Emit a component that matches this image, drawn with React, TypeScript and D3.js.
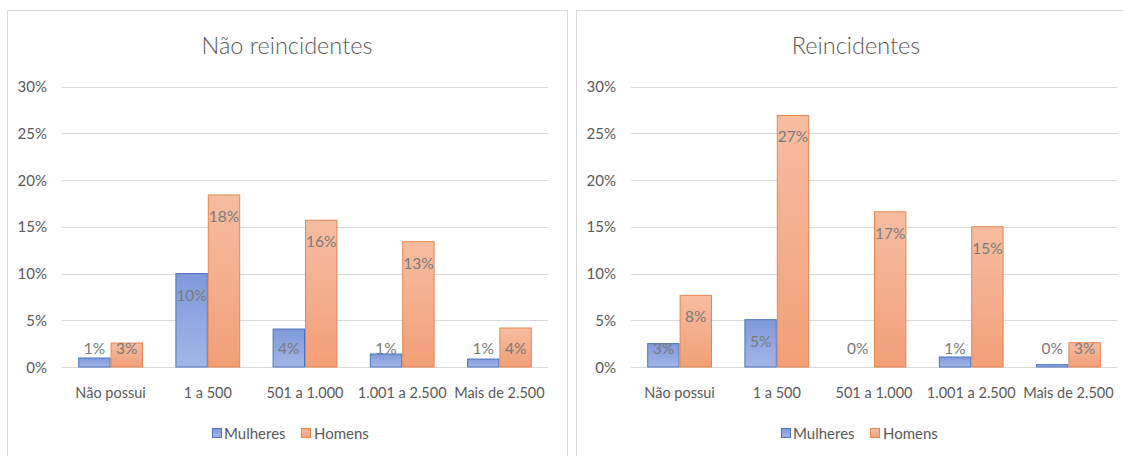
import React from "react";
import * as d3 from "d3";

const categories = ["Não possui", "1 a 500", "501 a 1.000", "1.001 a 2.500", "Mais de 2.500"];
const seriesNames = ["Mulheres", "Homens"];
const yTicks = [0, 5, 10, 15, 20, 25, 30];

const naoReincMulheres = [0.96, 10.0, 4.06, 1.39, 0.85];
const naoReincHomens = [2.56, 18.4, 15.7, 13.4, 4.17];
const reincMulheres = [2.5, 5.06, 0, 1.07, 0.25];
const reincHomens = [7.66, 26.9, 16.6, 15.0, 2.6];

const FONT = "Lato, 'Open Sans', sans-serif";
const TEXT = "#595959";
const LABEL = "#7a7a7a";

function Panel({ ox, title, mulheres, homens }: { ox: number; title: string; mulheres: number[]; homens: number[] }) {
  const x0 = d3.scaleBand<string>().domain(categories).range([ox + 55, ox + 541]).paddingInner(1 / 3).paddingOuter(1 / 6);
  const x1 = d3.scaleBand<string>().domain(seriesNames).range([0, x0.bandwidth()]).padding(0);
  const y = d3.scaleLinear().domain([0, 30]).range([367, 86.5]);
  const y0 = y(0);
  const series = [
    { name: "Mulheres", values: mulheres, fill: "url(#gBlue)", stroke: "#4f74bd" },
    { name: "Homens", values: homens, fill: "url(#gOrange)", stroke: "#e8854f" },
  ];
  const pc = ox + 280;
  return (
    <g>
      <rect x={ox + 0.5} y={10.5} width={560} height={470} fill="#fff" stroke="#d9d9d9" strokeWidth={1} />
      <text x={pc} y={54} textAnchor="middle" fontFamily={FONT} fontWeight={300} fontSize={23.5} fill={TEXT}>{title}</text>
      {yTicks.map((t) => (
        <g key={t}>
          <line x1={ox + 55} x2={ox + 541} y1={Math.round(y(t)) + 0.5} y2={Math.round(y(t)) + 0.5} stroke="#d9d9d9" strokeWidth={1} />
          <text x={ox + 40} y={y(t) + 5.5} textAnchor="end" fontFamily={FONT} fontSize={15} fill={TEXT}>{t}%</text>
        </g>
      ))}
      {series.map((s) =>
        s.values.map((v, i) => {
          const bx = (x0(categories[i]) as number) + (x1(s.name) as number);
          const bw = x1.bandwidth();
          const top = y(v);
          const h = y0 - top;
          const labelCy = Math.min(top + 21.5, y0 - 19);
          return (
            <g key={s.name + i}>
              {h > 0.3 && (
                <rect x={bx + 0.5} y={top} width={bw - 1} height={h} fill={s.fill} stroke={s.stroke} strokeWidth={1} />
              )}
              <text x={bx + bw / 2} y={labelCy + 5.5} textAnchor="middle" fontFamily={FONT} fontSize={15.5} fill={LABEL}>
                {Math.round(v)}%
              </text>
            </g>
          );
        })
      )}
      {categories.map((c) => (
        <text key={c} x={(x0(c) as number) + x0.bandwidth() / 2} y={397.5} textAnchor="middle" fontFamily={FONT} fontSize={14.5} fill={TEXT}>
          {c}
        </text>
      ))}
      <g>
        <rect x={ox + 205.5} y={428.5} width={9} height={9} fill="url(#gBlue)" stroke="#4f74bd" />
        <text x={ox + 217} y={438.5} fontFamily={FONT} fontSize={15} fill={TEXT}>Mulheres</text>
        <rect x={ox + 294.5} y={428.5} width={9} height={9} fill="url(#gOrange)" stroke="#e8854f" />
        <text x={ox + 307} y={438.5} fontFamily={FONT} fontSize={15} fill={TEXT}>Homens</text>
      </g>
    </g>
  );
}

export default function App() {
  return (
    <svg width={1123} height={456} style={{ position: "absolute", left: 0, top: 0, background: "#fff" }}>
      <defs>
        <linearGradient id="gBlue" x1="0" y1="0" x2="0" y2="1">
          <stop offset="0" stopColor="#7f99da" />
          <stop offset="1" stopColor="#a3b6e8" />
        </linearGradient>
        <linearGradient id="gOrange" x1="0" y1="0" x2="0" y2="1">
          <stop offset="0" stopColor="#f6bda1" />
          <stop offset="1" stopColor="#f29f78" />
        </linearGradient>
      </defs>
      <rect x={0} y={0} width={1123} height={456} fill="#fff" />
      <Panel ox={7} title="Não reincidentes" mulheres={naoReincMulheres} homens={naoReincHomens} />
      <Panel ox={576} title="Reincidentes" mulheres={reincMulheres} homens={reincHomens} />
    </svg>
  );
}
